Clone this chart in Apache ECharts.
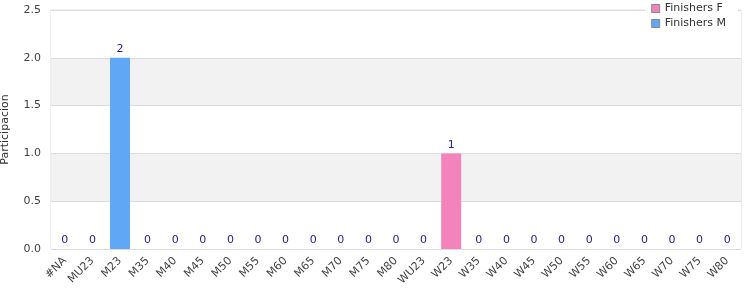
<!DOCTYPE html>
<html><head><meta charset="utf-8">
<script src="https://cdn.jsdelivr.net/npm/echarts@6/dist/echarts.min.js"></script>
<style>html,body{margin:0;padding:0;background:#fff}#c{width:750px;height:300px}</style>
</head><body><div id="c"></div>
<script>
const categories = ['#NA','MU23','M23','M35','M40','M45','M50','M55','M60','M65','M70','M75','M80','WU23','W23','W35','W40','W45','W50','W55','W60','W65','W70','W75','W80'];
const finishersF = [null,null,null,null,null,null,null,null,null,null,null,null,null,0,1,0,0,0,0,0,0,0,0,0,0];
const finishersM = [0,0,2,0,0,0,0,0,0,0,0,0,0,null,null,null,null,null,null,null,null,null,null,null,null];
const yTicks = [0, 0.5, 1.0, 1.5, 2.0, 2.5];

const font = 'DejaVu Sans';
const chart = echarts.init(document.getElementById('c'), null, {renderer:'canvas'});
const label = {show:true, position:'top', color:'#1f1f8f', fontFamily:font, fontSize:11, distance:3};
chart.setOption({
  animation:false,
  textStyle:{fontFamily:font},
  grid:{left:51, right:9, top:10, bottom:51, show:true, borderColor:'#dcdcdc', borderWidth:1,
        backgroundColor:'transparent', containLabel:false, outerBoundsMode:'none'},
  legend:{
    data:['Finishers F','Finishers M'], orient:'vertical', right:12, top:1,
    itemWidth:8, itemHeight:8, itemGap:4, icon:'rect',
    backgroundColor:'#fff', padding:[2,12,2,6], z:10,
    textStyle:{fontFamily:font, fontSize:11, color:'#333'},
    itemStyle:{borderColor:'#888', borderWidth:1}
  },
  xAxis:{
    type:'category', data:categories,
    axisLine:{show:false}, axisTick:{show:false},
    axisLabel:{rotate:45, interval:0, fontFamily:font, fontSize:11, color:'#444', margin:10},
    splitLine:{show:false}
  },
  yAxis:{
    type:'value', min:0, max:2.5, interval:0.5,
    name:'Participacion', nameLocation:'middle', nameGap:40,
    nameTextStyle:{fontFamily:font, fontSize:11, color:'#333'},
    axisLine:{show:false}, axisTick:{show:false},
    axisLabel:{fontFamily:font, fontSize:11, color:'#444', margin:10,
      formatter:v=>{const t=yTicks.find(x=>Math.abs(x-v)<1e-9);return (t!==undefined?t:v).toFixed(1);}},
    splitLine:{show:true, lineStyle:{color:'#dcdcdc', width:1}},
    splitArea:{show:true, areaStyle:{color:['#ffffff','#f2f2f2']}}
  },
  series:[
    {name:'Finishers F', type:'bar', stack:'s', data:finishersF, barWidth:20,
     itemStyle:{color:'#f283bb'}, label:label},
    {name:'Finishers M', type:'bar', stack:'s', data:finishersM, barWidth:20,
     itemStyle:{color:'#60a8f5'}, label:label}
  ]
});
</script></body></html>
